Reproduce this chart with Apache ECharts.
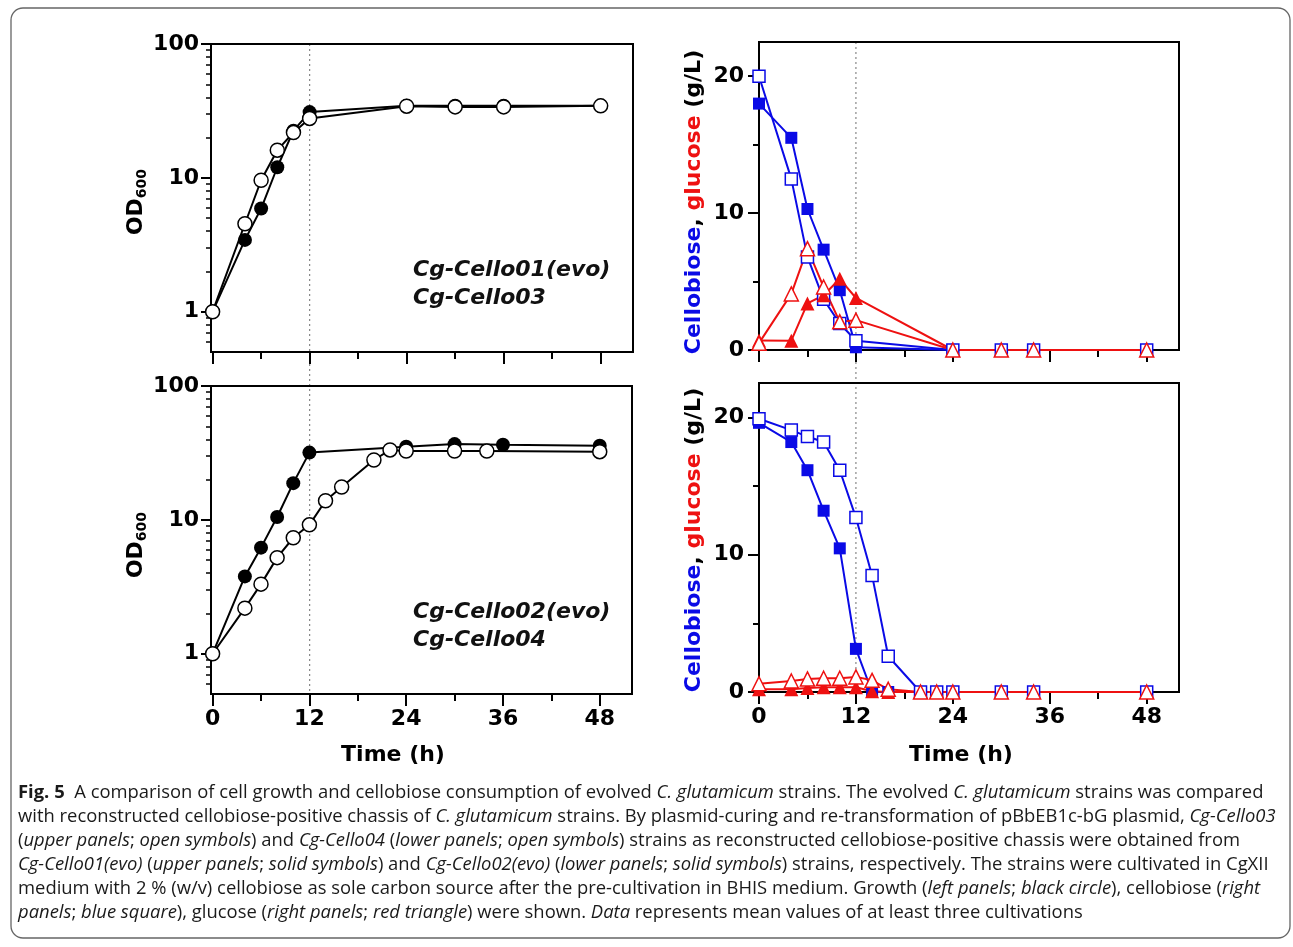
<!DOCTYPE html>
<html><head><meta charset="utf-8">
<script src="https://cdn.jsdelivr.net/npm/echarts@6/dist/echarts.min.js"></script>
<style>html,body{margin:0;padding:0;background:#fff;}#c{width:1293px;height:947px;}</style>
</head><body><div id="c"></div>
<script>
// ---------- data ----------
const T_TOP_OD = [0,4,6,8,10,12,24,30,36,48];
const OD_EVO01 = [1.0,3.44,5.9,12.0,22.5,31.0,34.5,34.6,34.6,34.5];
const OD_CELLO03 = [1.0,4.54,9.6,16.1,21.8,27.8,34.3,33.9,33.9,34.5];
const T_BOT_OD_EVO = [0,4,6,8,10,12,24,30,36,48];
const OD_EVO02 = [1.0,3.78,6.2,10.5,18.8,31.8,35.2,36.8,36.4,35.8];
const T_BOT_OD_C04 = [0,4,6,8,10,12,14,16,20,22,24,30,34,48];
const OD_CELLO04 = [1.0,2.19,3.31,5.22,7.35,9.18,13.9,17.6,28.0,33.3,32.7,32.7,32.7,32.3];
const T_TOP_SUG = [0,4,6,8,10,12,24,30,34,48];
const CB_EVO01 = [18.0,15.5,10.3,7.33,4.37,0.2,0,0,0,0];
const CB_CELLO03 = [20.0,12.5,6.8,3.7,1.94,0.68,0,0,0,0];
const GL_EVO01 = [0.7,0.68,3.4,4.0,5.2,3.8,0,0,0,0];
const GL_CELLO03 = [0.5,4.1,7.4,4.6,2.06,2.18,0,0,0,0];
const T_BOT_SUG = [0,4,6,8,10,12,14,16,20,22,24,30,34,48];
const CB_EVO02 = [19.6,18.2,16.15,13.2,10.46,3.14,0,0,0,0,0,0,0,0];
const CB_CELLO04 = [19.9,19.07,18.6,18.2,16.15,12.7,8.49,2.6,0,0,0,0,0,0];
const GL_EVO02 = [0.2,0.2,0.3,0.35,0.35,0.35,0.05,0,0,0,0,0,0,0];
const GL_CELLO04 = [0.6,0.8,0.95,1.0,1.0,1.1,0.85,0.2,0,0,0,0,0,0];
const X_MAJOR = [0,12,24,36,48];
const X_MINOR = [6,18,30,42];
const LOG_MAJOR = [1,10,100];
const LOG_MINOR = [0.6,0.7,0.8,0.9,2,3,4,5,6,7,8,9,20,30,40,50,60,70,80,90];
const LIN_MAJOR = [0,10,20];
const LIN_MINOR = [5,15];
const STRAIN_LABELS = [['Cg-Cello01(evo)','Cg-Cello03'],['Cg-Cello02(evo)','Cg-Cello04']];
const CAPTION = [
 [['b','Fig. 5'],['n','  A comparison of cell growth and cellobiose consumption of evolved '],['i','C. glutamicum'],['n',' strains. The evolved '],['i','C. glutamicum'],['n',' strains was compared']],
 [['n','with reconstructed cellobiose-positive chassis of '],['i','C. glutamicum'],['n',' strains. By plasmid-curing and re-transformation of pBbEB1c-bG plasmid, '],['i','Cg-Cello03']],
 [['n','('],['i','upper panels'],['n','; '],['i','open symbols'],['n',') and '],['i','Cg-Cello04'],['n',' ('],['i','lower panels'],['n','; '],['i','open symbols'],['n',') strains as reconstructed cellobiose-positive chassis were obtained from']],
 [['i','Cg-Cello01(evo)'],['n',' ('],['i','upper panels'],['n','; '],['i','solid symbols'],['n',') and '],['i','Cg-Cello02(evo)'],['n',' ('],['i','lower panels'],['n','; '],['i','solid symbols'],['n',') strains, respectively. The strains were cultivated in CgXII']],
 [['n','medium with 2 % (w/v) cellobiose as sole carbon source after the pre-cultivation in BHIS medium. Growth ('],['i','left panels'],['n','; '],['i','black circle'],['n','), cellobiose ('],['i','right']],
 [['i','panels'],['n','; '],['i','blue square'],['n','), glucose ('],['i','right panels'],['n','; '],['i','red triangle'],['n',') were shown. '],['i','Data'],['n',' represents mean values of at least three cultivations']]
];

// ---------- style ----------
const FONT = 'DejaVu Sans';
const BLUE = '#0a0ae6', RED = '#ee1111';
const pairs = (t, v) => t.map((x, i) => [x, v[i]]);
const grids = [
  {left:211, top:44, width:422, height:308},
  {left:759, top:42, width:420, height:308},
  {left:211, top:386, width:421, height:308},
  {left:759, top:383, width:420, height:309}
];
const lblStyle = {fontFamily:FONT, fontWeight:'bold', fontSize:22, color:'#000'};
const xAxes = [], yAxes = [];
grids.forEach((g, gi) => {
  const left = gi % 2 === 0;
  const showX = gi >= 2;
  const xmin = left ? -0.2 : 0;
  xAxes.push({type:'value', gridIndex:gi, position:'bottom', min:xmin, max:52,
    axisLine:{show:true, onZero:false, lineStyle:{color:'#000', width:2}},
    axisTick:{show:true, length:12, customValues:X_MAJOR, lineStyle:{color:'#000', width:2}},
    axisLabel:Object.assign({show:showX, margin:14, customValues:X_MAJOR}, lblStyle),
    splitLine:{show:false}});
  xAxes.push({type:'value', gridIndex:gi, position:'bottom', offset:0, min:xmin, max:52,
    axisLine:{show:false, onZero:false},
    axisTick:{show:true, length:7, customValues:X_MINOR, lineStyle:{color:'#000', width:2}},
    axisLabel:{show:false}, splitLine:{show:false}});
  if (left) {
    yAxes.push({type:'log', logBase:10, gridIndex:gi, position:'left', min:0.5, max:100,
      axisLine:{show:true, onZero:false, lineStyle:{color:'#000', width:2}},
      axisTick:{show:true, length:10, customValues:LOG_MAJOR, lineStyle:{color:'#000', width:2}},
      axisLabel:Object.assign({margin:12, customValues:LOG_MAJOR}, lblStyle),
      splitLine:{show:false}});
    yAxes.push({type:'log', logBase:10, gridIndex:gi, position:'left', offset:0, min:0.5, max:100,
      axisLine:{show:false, onZero:false},
      axisTick:{show:true, length:5, customValues:LOG_MINOR, lineStyle:{color:'#000', width:1.5}},
      axisLabel:{show:false}, splitLine:{show:false}});
  } else {
    yAxes.push({type:'value', gridIndex:gi, position:'left', min:0, max:22.5,
      axisLine:{show:true, onZero:false, lineStyle:{color:'#000', width:2}},
      axisTick:{show:true, length:11, customValues:LIN_MAJOR, lineStyle:{color:'#000', width:2}},
      axisLabel:Object.assign({margin:15, customValues:LIN_MAJOR}, lblStyle),
      splitLine:{show:false}});
    yAxes.push({type:'value', gridIndex:gi, position:'left', offset:0, min:0, max:22.5,
      axisLine:{show:false, onZero:false},
      axisTick:{show:true, length:6, customValues:LIN_MINOR, lineStyle:{color:'#000', width:2}},
      axisLabel:{show:false}, splitLine:{show:false}});
  }
});

function ser(gi, data, color, filled, symbol, size) {
  return {type:'line', xAxisIndex:gi*2, yAxisIndex:gi*2, data:data,
    symbol:symbol, symbolSize:size, showAllSymbol:true, clip:false, animation:false,
    lineStyle:{color:color, width:2},
    itemStyle:{color: filled ? color : '#fff', borderColor:color, borderWidth: filled ? 0 : 1.5},
    emphasis:{disabled:true}};
}
const series = [
  ser(0, pairs(T_TOP_OD, OD_EVO01), '#000', true, 'circle', 14),
  ser(0, pairs(T_TOP_OD, OD_CELLO03), '#000', false, 'circle', 14),
  ser(2, pairs(T_BOT_OD_EVO, OD_EVO02), '#000', true, 'circle', 14),
  ser(2, pairs(T_BOT_OD_C04, OD_CELLO04), '#000', false, 'circle', 14),
  ser(1, pairs(T_TOP_SUG, CB_EVO01), BLUE, true, 'rect', 12),
  ser(1, pairs(T_TOP_SUG, CB_CELLO03), BLUE, false, 'rect', 12),
  ser(1, pairs(T_TOP_SUG, GL_EVO01), RED, true, 'triangle', 14),
  ser(1, pairs(T_TOP_SUG, GL_CELLO03), RED, false, 'triangle', 14),
  ser(3, pairs(T_BOT_SUG, CB_EVO02), BLUE, true, 'rect', 12),
  ser(3, pairs(T_BOT_SUG, CB_CELLO04), BLUE, false, 'rect', 12),
  ser(3, pairs(T_BOT_SUG, GL_EVO02), RED, true, 'triangle', 14),
  ser(3, pairs(T_BOT_SUG, GL_CELLO04), RED, false, 'triangle', 14)
];

// ---------- graphics (text) ----------
const graphics = [];
graphics.push({type:'rect', shape:{x:11, y:8, width:1279, height:930, r:12}, z:-10,
  style:{fill:'none', stroke:'#666', lineWidth:1.3}});
const annoY = [[270, 298], [612, 640]];
STRAIN_LABELS.forEach((pair, k) => pair.forEach((s, j) => graphics.push({type:'text', x:413, y:annoY[k][j],
  style:{text:s, font:'italic bold 22px "DejaVu Sans"', fill:'#111', textVerticalAlign:'middle'}})));
[[393, 755], [961, 755]].forEach(p => graphics.push({type:'text', x:p[0], y:p[1],
  style:{text:'Time (h)', font:'bold 22px "DejaVu Sans"', fill:'#000', textAlign:'center', textVerticalAlign:'middle'}}));
[[136, 202], [136, 545]].forEach(p => graphics.push({type:'text', x:p[0], y:p[1], rotation:Math.PI/2,
  style:{text:'{a|OD}{s|600}', textAlign:'center', textVerticalAlign:'middle',
    rich:{a:{fontFamily:FONT, fontWeight:'bold', fontSize:22, fill:'#000', lineHeight:26},
          s:{fontFamily:FONT, fontWeight:'bold', fontSize:14, fill:'#000', verticalAlign:'bottom', lineHeight:20}}}}));
[[694, 202], [694, 540]].forEach(p => graphics.push({type:'text', x:p[0], y:p[1], rotation:Math.PI/2,
  style:{text:'{b|Cellobiose}{k|, }{r|glucose}{k| (g/L)}', textAlign:'center', textVerticalAlign:'middle',
    rich:{b:{fontFamily:FONT, fontWeight:'bold', fontSize:22, fill:BLUE},
          r:{fontFamily:FONT, fontWeight:'bold', fontSize:22, fill:RED},
          k:{fontFamily:FONT, fontWeight:'bold', fontSize:22, fill:'#000'}}}}));

// caption: fit font size so the widest line matches the reference text width
const CAP_FONT = 'Open Sans';
const cv = document.createElement('canvas').getContext('2d');
function segFont(st, sz) { return (st === 'i' ? 'italic ' : '') + (st === 'b' ? 'bold ' : '') + sz + 'px "' + CAP_FONT + '"'; }
function lineWidth(line, sz) { return line.reduce((w, s) => { cv.font = segFont(s[0], sz); return w + cv.measureText(s[1]).width; }, 0); }
const widest = Math.max.apply(null, CAPTION.slice(0, 5).map(l => lineWidth(l, 100)));
const capSize = Math.min(19, 100 * 1259 / widest);
CAPTION.forEach((line, li) => {
  const txt = line.map(s => '{' + s[0] + '|' + s[1] + '}').join('');
  const mk = (st) => ({fontFamily:CAP_FONT, fontSize:capSize, fill:'#1a1a1a', fontStyle: st === 'i' ? 'italic' : 'normal', fontWeight: st === 'b' ? 'bold' : 'normal'});
  graphics.push({type:'text', x:18, y:793 + li * 24,
    style:{text:txt, textVerticalAlign:'middle', rich:{n:mk('n'), i:mk('i'), b:mk('b')}}});
});

const chart = echarts.init(document.getElementById('c'), null, {renderer:'canvas'});
chart.setOption({animation:false, backgroundColor:'#fff',
  grid: grids.map(g => Object.assign({show:true, borderColor:'#000', borderWidth:2, backgroundColor:'transparent'}, g)),
  xAxis:xAxes, yAxis:yAxes, series:series, graphic:graphics});

// dotted guide line at t = 12 h across both panels of each column
const dl = [];
[[0, 4], [2, 6]].forEach(([xa, xb]) => {
  const x = chart.convertToPixel({xAxisIndex:xa}, 12);
  const top = grids[xa / 2].top;
  const bot = grids[xb / 2].top + grids[xb / 2].height;
  dl.push({type:'line', z:-1, shape:{x1:x, y1:top, x2:x, y2:bot}, style:{stroke:'#888', lineWidth:1.2, lineDash:[2, 3]}});
});
chart.setOption({graphic: graphics.concat(dl)});
</script></body></html>
